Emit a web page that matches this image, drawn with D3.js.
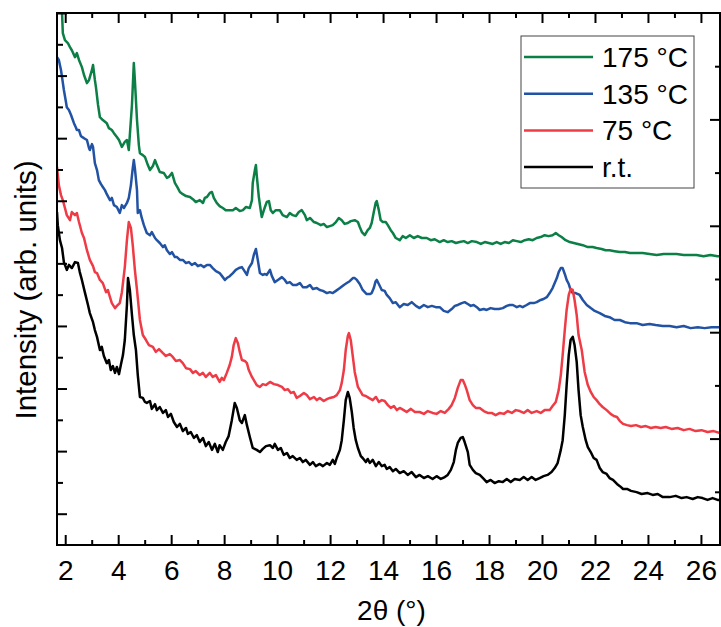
<!DOCTYPE html>
<html>
<head>
<meta charset="utf-8">
<script src="https://cdn.jsdelivr.net/npm/d3@7/dist/d3.min.js"></script>
<style>
  body { margin: 0; background: #fff; }
  svg { display: block; font-family: "Liberation Sans", Arial, sans-serif; }
</style>
</head>
<body>
<svg id="chart" width="721" height="627"></svg>
<script>
// XRD patterns, [2theta (deg), intensity (arb. units)]
const rtData = [
  [1.69,10.64],[1.72,10.22],[1.80,9.74],[1.88,9.49],[1.95,9.04],[2.06,8.79],[2.14,8.95],[2.25,8.85],[2.37,9.04],[2.48,9.01],
  [2.55,8.72],[2.63,8.47],[2.74,8.08],[2.86,7.67],[2.93,7.41],[3.05,7.12],[3.12,6.87],[3.20,6.65],[3.31,6.23],[3.38,6.33],
  [3.46,6.04],[3.57,5.81],[3.65,5.91],[3.72,5.59],[3.80,5.72],[3.88,5.50],[3.95,5.69],[4.03,5.46],[4.10,5.75],[4.18,6.07],
  [4.25,6.55],[4.33,7.67],[4.37,8.53],[4.44,8.15],[4.52,7.35],[4.59,6.71],[4.67,6.23],[4.74,5.43],[4.82,4.73],[4.93,4.70],
  [5.01,4.57],[5.08,4.54],[5.20,4.60],[5.27,4.35],[5.39,4.50],[5.46,4.31],[5.57,4.41],[5.69,4.22],[5.80,4.31],[5.88,4.09],
  [5.99,4.19],[6.10,3.93],[6.22,3.77],[6.33,3.87],[6.44,3.64],[6.56,3.74],[6.63,3.55],[6.74,3.61],[6.86,3.42],[6.97,3.51],
  [7.08,3.29],[7.20,3.42],[7.31,3.16],[7.42,3.29],[7.54,3.04],[7.65,3.23],[7.76,2.97],[7.83,3.19],[7.95,3.04],[8.06,3.29],
  [8.17,3.48],[8.29,3.99],[8.40,4.54],[8.48,4.38],[8.59,3.99],[8.67,3.90],[8.78,4.15],[8.86,3.83],[8.97,3.45],[9.08,3.10],
  [9.23,3.04],[9.35,2.97],[9.46,3.07],[9.58,3.16],[9.73,3.19],[9.84,3.10],[9.91,3.23],[10.03,3.04],[10.14,3.10],[10.25,2.88],
  [10.37,2.94],[10.48,2.78],[10.59,2.84],[10.74,2.72],[10.86,2.78],[10.97,2.65],[11.08,2.72],[11.24,2.56],[11.35,2.65],[11.46,2.52],
  [11.61,2.59],[11.73,2.52],[11.88,2.62],[11.99,2.56],[12.10,2.72],[12.18,2.59],[12.25,2.78],[12.37,3.04],[12.44,3.35],[12.52,3.99],
  [12.59,4.63],[12.67,4.89],[12.74,4.70],[12.82,4.25],[12.89,3.74],[12.97,3.35],[13.05,3.10],[13.16,2.84],[13.23,2.78],[13.35,2.65],
  [13.42,2.75],[13.50,2.62],[13.61,2.72],[13.73,2.52],[13.84,2.65],[13.95,2.52],[14.06,2.56],[14.14,2.43],[14.25,2.49],[14.37,2.36],
  [14.48,2.43],[14.63,2.30],[14.78,2.36],[14.93,2.24],[15.08,2.33],[15.24,2.17],[15.38,2.24],[15.54,2.14],[15.69,2.20],[15.87,2.11],
  [16.02,2.20],[16.18,2.11],[16.33,2.17],[16.44,2.24],[16.56,2.40],[16.67,2.65],[16.75,3.04],[16.82,3.26],[16.93,3.42],[17.01,3.45],
  [17.08,3.29],[17.20,2.97],[17.27,2.56],[17.39,2.40],[17.50,2.30],[17.65,2.24],[17.80,2.11],[17.91,2.01],[18.06,2.08],[18.21,1.98],
  [18.37,2.04],[18.52,2.01],[18.67,2.11],[18.82,2.01],[18.97,2.11],[19.16,2.08],[19.31,2.17],[19.46,2.08],[19.61,2.17],[19.76,2.08],
  [19.91,2.14],[20.06,2.20],[20.21,2.24],[20.36,2.33],[20.48,2.46],[20.59,2.62],[20.71,3.04],[20.78,3.35],[20.86,4.15],[20.93,5.11],
  [21.01,6.07],[21.08,6.55],[21.16,6.65],[21.23,6.39],[21.31,5.85],[21.38,4.95],[21.46,4.15],[21.54,3.77],[21.65,3.35],[21.73,3.13],
  [21.84,2.97],[21.95,2.78],[22.06,2.72],[22.18,2.46],[22.29,2.33],[22.44,2.27],[22.55,2.14],[22.68,2.08],[22.83,1.95],[22.94,1.88],
  [23.06,1.79],[23.21,1.79],[23.36,1.73],[23.57,1.69],[23.76,1.63],[23.99,1.66],[24.18,1.60],[24.37,1.63],[24.56,1.53],[24.82,1.53],
  [25.05,1.57],[25.27,1.50],[25.46,1.53],[25.69,1.47],[25.88,1.53],[26.06,1.50],[26.25,1.44],[26.44,1.50],[26.63,1.44],[26.72,1.44]
];
const c75Data = [
  [1.69,12.08],[1.76,11.50],[1.84,11.18],[1.91,11.02],[1.99,10.77],[2.06,10.54],[2.18,10.38],[2.25,10.64],[2.37,10.54],[2.44,10.61],
  [2.52,10.32],[2.63,9.97],[2.71,9.81],[2.82,9.42],[2.93,9.11],[3.05,8.91],[3.12,8.72],[3.20,8.69],[3.31,8.47],[3.42,8.37],
  [3.54,8.08],[3.61,8.15],[3.69,7.92],[3.76,7.73],[3.88,7.57],[3.95,7.64],[4.06,7.73],[4.14,8.08],[4.25,8.88],[4.33,9.74],
  [4.40,10.32],[4.48,10.13],[4.55,9.58],[4.63,8.79],[4.71,8.15],[4.82,7.19],[4.93,6.71],[5.05,6.55],[5.16,6.39],[5.31,6.33],
  [5.42,6.17],[5.54,6.26],[5.69,6.13],[5.80,6.04],[5.95,6.10],[6.06,6.01],[6.18,5.88],[6.33,5.91],[6.44,5.81],[6.56,5.65],
  [6.71,5.62],[6.82,5.50],[6.93,5.56],[7.08,5.43],[7.20,5.50],[7.31,5.37],[7.46,5.50],[7.57,5.37],[7.69,5.43],[7.83,5.21],
  [7.91,5.34],[7.99,5.27],[8.10,5.50],[8.21,5.75],[8.29,6.01],[8.36,6.39],[8.44,6.61],[8.52,6.45],[8.59,6.17],[8.67,5.91],
  [8.78,5.88],[8.86,5.81],[8.93,5.59],[9.05,5.37],[9.16,5.21],[9.23,5.11],[9.35,5.05],[9.46,5.14],[9.58,5.11],[9.73,5.21],
  [9.88,5.14],[10.03,5.11],[10.18,5.05],[10.29,4.95],[10.41,4.98],[10.52,4.86],[10.63,4.89],[10.74,4.70],[10.86,4.76],[11.01,4.86],
  [11.12,4.79],[11.24,4.66],[11.39,4.73],[11.50,4.63],[11.61,4.70],[11.76,4.60],[11.88,4.66],[11.99,4.70],[12.14,4.73],[12.25,4.79],
  [12.37,4.95],[12.44,5.18],[12.52,5.59],[12.59,6.23],[12.67,6.68],[12.71,6.77],[12.78,6.55],[12.86,6.01],[12.93,5.53],[13.05,5.05],
  [13.16,4.89],[13.23,4.79],[13.35,4.76],[13.46,4.70],[13.61,4.63],[13.73,4.73],[13.84,4.57],[13.95,4.63],[14.06,4.60],[14.18,4.47],
  [14.29,4.38],[14.41,4.44],[14.52,4.31],[14.63,4.38],[14.78,4.31],[14.89,4.25],[15.05,4.35],[15.20,4.25],[15.38,4.25],[15.54,4.19],
  [15.69,4.28],[15.87,4.22],[16.02,4.19],[16.18,4.28],[16.33,4.22],[16.48,4.35],[16.59,4.47],[16.71,4.70],[16.82,5.02],[16.93,5.27],
  [17.01,5.27],[17.08,5.14],[17.16,4.95],[17.27,4.63],[17.39,4.47],[17.50,4.38],[17.65,4.38],[17.80,4.28],[17.95,4.22],[18.10,4.22],
  [18.25,4.15],[18.41,4.22],[18.56,4.19],[18.71,4.28],[18.86,4.22],[19.01,4.31],[19.16,4.28],[19.31,4.22],[19.46,4.31],[19.61,4.22],
  [19.80,4.28],[19.95,4.22],[20.10,4.31],[20.29,4.31],[20.40,4.44],[20.52,4.57],[20.63,4.95],[20.71,5.43],[20.78,6.07],[20.86,6.87],
  [20.93,7.51],[21.01,7.99],[21.08,8.18],[21.16,8.15],[21.23,7.83],[21.31,7.35],[21.38,6.71],[21.50,6.23],[21.61,5.53],[21.73,5.11],
  [21.84,4.89],[21.95,4.73],[22.06,4.63],[22.18,4.50],[22.29,4.41],[22.44,4.31],[22.59,4.19],[22.71,4.12],[22.83,4.09],[22.94,3.96],
  [23.06,3.87],[23.21,3.83],[23.36,3.80],[23.55,3.83],[23.74,3.77],[23.92,3.80],[24.11,3.74],[24.29,3.77],[24.48,3.74],[24.67,3.77],
  [24.89,3.71],[25.12,3.74],[25.35,3.67],[25.57,3.71],[25.80,3.64],[26.02,3.67],[26.25,3.61],[26.48,3.64],[26.72,3.58]
];
const c135Data = [
  [1.69,15.59],[1.76,15.50],[1.84,15.18],[1.88,14.95],[1.95,14.54],[2.03,14.15],[2.06,13.99],[2.14,13.90],[2.22,13.74],[2.25,13.67],
  [2.33,13.48],[2.40,13.35],[2.44,13.26],[2.52,13.26],[2.59,13.07],[2.63,13.04],[2.71,13.00],[2.82,12.94],[2.90,12.68],[2.93,12.62],
  [3.01,12.81],[3.05,12.72],[3.12,12.20],[3.20,11.98],[3.27,11.66],[3.35,11.53],[3.42,11.44],[3.50,11.34],[3.57,11.21],[3.69,11.02],
  [3.76,11.09],[3.84,10.86],[3.95,10.80],[4.06,10.61],[4.14,10.86],[4.22,10.77],[4.33,10.93],[4.40,11.09],[4.48,11.50],[4.55,12.04],
  [4.59,12.30],[4.63,12.04],[4.71,11.34],[4.74,10.61],[4.82,10.70],[4.89,10.45],[4.97,10.22],[5.08,9.97],[5.20,9.90],[5.27,10.00],
  [5.39,9.81],[5.46,9.74],[5.57,9.65],[5.69,9.52],[5.76,9.58],[5.84,9.42],[5.95,9.30],[6.03,9.36],[6.14,9.20],[6.22,9.20],
  [6.33,9.11],[6.44,9.11],[6.56,9.01],[6.67,9.04],[6.78,8.95],[6.90,9.01],[7.01,8.91],[7.12,8.95],[7.23,8.88],[7.35,8.95],
  [7.46,8.95],[7.57,8.85],[7.69,8.75],[7.83,8.69],[7.95,8.56],[8.03,8.47],[8.10,8.53],[8.21,8.59],[8.33,8.69],[8.44,8.79],
  [8.56,8.85],[8.67,8.88],[8.74,8.79],[8.86,8.63],[8.93,8.85],[9.05,9.01],[9.12,9.27],[9.20,9.46],[9.27,9.11],[9.35,8.69],
  [9.46,8.63],[9.54,8.66],[9.61,8.63],[9.73,8.79],[9.80,8.60],[9.91,8.40],[10.03,8.47],[10.18,8.56],[10.29,8.47],[10.37,8.37],
  [10.48,8.40],[10.59,8.31],[10.74,8.31],[10.86,8.37],[10.97,8.24],[11.12,8.24],[11.24,8.31],[11.35,8.18],[11.50,8.21],[11.61,8.15],
  [11.73,8.12],[11.88,8.05],[11.99,8.08],[12.10,8.05],[12.22,8.12],[12.37,8.21],[12.52,8.31],[12.63,8.37],[12.74,8.43],[12.86,8.53],
  [12.93,8.53],[13.01,8.47],[13.12,8.34],[13.23,8.15],[13.38,8.02],[13.50,8.02],[13.57,8.05],[13.65,8.21],[13.72,8.43],[13.76,8.47],
  [13.84,8.34],[13.95,8.15],[14.06,8.12],[14.14,7.99],[14.25,7.89],[14.37,7.73],[14.48,7.76],[14.63,7.60],[14.78,7.70],[14.93,7.67],
  [15.08,7.76],[15.24,7.64],[15.38,7.57],[15.54,7.67],[15.69,7.60],[15.84,7.64],[15.99,7.60],[16.14,7.60],[16.29,7.48],[16.44,7.44],
  [16.59,7.54],[16.71,7.64],[16.82,7.67],[16.97,7.73],[17.08,7.76],[17.20,7.70],[17.31,7.64],[17.42,7.67],[17.54,7.60],[17.65,7.51],
  [17.80,7.54],[17.91,7.51],[18.06,7.57],[18.21,7.54],[18.37,7.54],[18.52,7.57],[18.67,7.64],[18.78,7.67],[18.90,7.67],[19.05,7.60],
  [19.16,7.64],[19.27,7.60],[19.42,7.67],[19.54,7.73],[19.69,7.73],[19.80,7.76],[19.95,7.83],[20.06,7.86],[20.18,7.92],[20.29,8.05],
  [20.40,8.21],[20.48,8.37],[20.56,8.53],[20.63,8.72],[20.71,8.85],[20.78,8.85],[20.86,8.66],[20.93,8.47],[21.01,8.34],[21.08,8.15],
  [21.16,8.05],[21.27,8.05],[21.42,7.99],[21.54,7.83],[21.69,7.67],[21.84,7.57],[21.99,7.48],[22.18,7.41],[22.37,7.32],[22.55,7.28],
  [22.74,7.19],[22.94,7.19],[23.13,7.12],[23.32,7.09],[23.57,7.09],[23.80,7.03],[24.06,7.06],[24.29,7.03],[24.56,7.00],[24.82,7.00],
  [25.08,6.96],[25.35,7.00],[25.61,6.93],[25.88,6.96],[26.14,6.93],[26.40,6.96],[26.72,6.96]
];
const c175Data = [
  [1.82,17.6],[1.88,17.00],[1.91,16.36],[1.99,16.13],[2.10,16.04],[2.18,15.91],[2.25,15.81],[2.37,15.59],[2.44,15.72],[2.52,15.50],
  [2.63,15.27],[2.71,15.02],[2.82,14.76],[2.90,14.86],[2.93,14.95],[3.01,15.18],[3.05,15.34],[3.12,14.86],[3.16,14.63],[3.24,14.06],
  [3.31,13.67],[3.42,13.58],[3.57,13.48],[3.65,13.32],[3.76,13.26],[3.84,13.16],[3.95,13.04],[4.03,12.94],[4.14,12.72],[4.25,12.88],
  [4.33,12.94],[4.40,12.62],[4.48,13.58],[4.52,14.06],[4.59,15.40],[4.63,14.86],[4.71,13.58],[4.78,12.78],[4.82,12.52],[4.93,12.46],
  [5.01,12.40],[5.12,12.14],[5.20,11.98],[5.31,12.11],[5.39,12.30],[5.46,12.14],[5.57,11.92],[5.72,11.89],[5.84,11.73],[5.91,11.76],
  [6.03,11.89],[6.14,11.57],[6.25,11.41],[6.33,11.28],[6.44,11.21],[6.56,11.15],[6.71,11.12],[6.82,11.05],[6.93,10.96],[7.08,11.02],
  [7.20,10.93],[7.27,11.09],[7.35,11.12],[7.46,11.25],[7.54,11.28],[7.61,11.09],[7.72,10.93],[7.83,10.83],[7.95,10.77],[8.06,10.70],
  [8.21,10.70],[8.33,10.70],[8.44,10.77],[8.59,10.67],[8.71,10.70],[8.82,10.80],[8.97,10.77],[9.05,11.02],[9.08,11.57],[9.16,11.98],
  [9.20,12.14],[9.23,11.82],[9.31,11.12],[9.39,10.64],[9.42,10.48],[9.50,10.70],[9.54,10.80],[9.61,10.96],[9.69,10.99],[9.76,10.70],
  [9.84,10.61],[9.95,10.70],[10.10,10.70],[10.21,10.54],[10.37,10.48],[10.48,10.61],[10.59,10.54],[10.71,10.51],[10.82,10.64],[10.93,10.70],
  [11.05,10.54],[11.12,10.38],[11.24,10.45],[11.39,10.32],[11.50,10.29],[11.65,10.22],[11.76,10.26],[11.88,10.16],[11.99,10.19],[12.10,10.22],
  [12.22,10.32],[12.33,10.45],[12.44,10.38],[12.55,10.26],[12.67,10.29],[12.78,10.35],[12.93,10.38],[13.05,10.32],[13.12,10.16],[13.20,10.00],
  [13.31,9.90],[13.42,10.06],[13.50,10.13],[13.57,10.29],[13.65,10.64],[13.72,10.93],[13.76,10.99],[13.84,10.70],[13.91,10.38],[13.99,10.32],
  [14.10,10.32],[14.18,10.22],[14.29,10.06],[14.37,9.97],[14.48,9.81],[14.63,9.74],[14.74,9.87],[14.86,9.81],[15.01,9.90],[15.16,9.81],
  [15.31,9.87],[15.46,9.81],[15.65,9.81],[15.80,9.74],[15.95,9.77],[16.14,9.68],[16.29,9.74],[16.44,9.68],[16.59,9.71],[16.75,9.65],
  [16.89,9.68],[17.05,9.71],[17.20,9.65],[17.35,9.71],[17.54,9.68],[17.69,9.62],[17.84,9.68],[17.99,9.65],[18.14,9.62],[18.29,9.68],
  [18.44,9.62],[18.59,9.68],[18.75,9.65],[18.90,9.74],[19.05,9.71],[19.20,9.68],[19.35,9.74],[19.50,9.77],[19.65,9.74],[19.80,9.81],
  [19.95,9.84],[20.10,9.90],[20.25,9.87],[20.40,9.90],[20.52,9.97],[20.63,9.90],[20.74,9.84],[20.89,9.74],[21.05,9.68],[21.20,9.65],
  [21.35,9.62],[21.54,9.58],[21.73,9.52],[21.91,9.52],[22.06,9.49],[22.25,9.46],[22.40,9.42],[22.55,9.42],[22.74,9.39],[22.94,9.36],
  [23.13,9.36],[23.32,9.33],[23.55,9.33],[23.80,9.33],[24.06,9.30],[24.33,9.27],[24.59,9.30],[24.86,9.30],[25.08,9.30],[25.35,9.27],
  [25.61,9.27],[25.83,9.27],[26.10,9.23],[26.36,9.27],[26.63,9.23],[26.72,9.23]
];

const seriesNames = ["175 °C", "135 °C", "75 °C", "r.t."];
const seriesData  = [c175Data, c135Data, c75Data, rtData];
const seriesColor = ["#0b7f45", "#2152a3", "#ee3b46", "#000000"];

const xMajorTicks = [2,4,6,8,10,12,14,16,18,20,22,24,26];
const xMinorTicks = [3,5,7,9,11,13,15,17,19,21,23,25];
const yLeftMajor  = [1,3,5,7,9,11,13,15,17];
const yLeftMinor  = [2,4,6,8,10,12,14,16];
const yRightMajor = [2,4,6,8];
const yRightMinor = [1,3,5,7,9];

const svg = d3.select('#chart');
const margin = {l:57, t:13, r:1, b:82};
const W = 721 - margin.l - margin.r;
const H = 627 - margin.t - margin.b;

const x  = d3.scaleLinear().domain([1.69, 26.72]).range([0, W]);
const y  = d3.scaleLinear().domain([0, 17]).range([H, 0]);
const y2 = d3.scaleLinear().domain([0, 10]).range([H, 0]);   // right-hand frame ticks

const g = svg.append('g').attr('transform', `translate(${margin.l},${margin.t})`);

g.append('clipPath').attr('id','plotClip')
  .append('rect').attr('width', W).attr('height', H);

// curves
const line = d3.line().x(d => x(d[0])).y(d => y(d[1]));
const curves = g.append('g').attr('clip-path','url(#plotClip)');
seriesData.forEach((data, i) => {
  curves.append('path')
    .datum(data)
    .attr('fill','none')
    .attr('stroke', seriesColor[i])
    .attr('stroke-width', 2.5)
    .attr('stroke-linejoin','round')
    .attr('d', line);
});

// axes: inward ticks, labels only at the bottom
function styleAxis(sel){
  sel.select('.domain').remove();
  sel.selectAll('line').attr('stroke','#000').attr('stroke-width',2);
  sel.selectAll('text').attr('fill','#000').style('font-size','28px')
    .style('font-family','"Liberation Sans", Arial, sans-serif');
}
g.append('g').attr('transform',`translate(0,${H})`)
  .call(d3.axisBottom(x).tickValues(xMajorTicks).tickSize(-10).tickPadding(15).tickFormat(d3.format('d')))
  .call(styleAxis);
g.append('g').attr('transform',`translate(0,${H})`)
  .call(d3.axisBottom(x).tickValues(xMinorTicks).tickSize(-5).tickFormat(''))
  .call(styleAxis);
g.append('g')
  .call(d3.axisTop(x).tickValues(xMajorTicks).tickSize(-10).tickFormat(''))
  .call(styleAxis);
g.append('g')
  .call(d3.axisTop(x).tickValues(xMinorTicks).tickSize(-5).tickFormat(''))
  .call(styleAxis);
g.append('g')
  .call(d3.axisLeft(y).tickValues(yLeftMajor).tickSize(-10).tickFormat(''))
  .call(styleAxis);
g.append('g')
  .call(d3.axisLeft(y).tickValues(yLeftMinor).tickSize(-6).tickFormat(''))
  .call(styleAxis);
g.append('g').attr('transform',`translate(${W},0)`)
  .call(d3.axisRight(y2).tickValues(yRightMajor).tickSize(-10).tickFormat(''))
  .call(styleAxis);
g.append('g').attr('transform',`translate(${W},0)`)
  .call(d3.axisRight(y2).tickValues(yRightMinor).tickSize(-5).tickFormat(''))
  .call(styleAxis);

// frame
g.append('rect')
  .attr('width', W).attr('height', H)
  .attr('fill','none').attr('stroke','#000').attr('stroke-width',2);

// axis titles
g.append('text')
  .attr('x', W/2 + 3).attr('y', H + 75)
  .attr('text-anchor','middle').style('font-size','28px')
  .text('2θ (°)');
svg.append('text')
  .attr('transform', `translate(36,290) rotate(-90)`)
  .attr('text-anchor','middle').style('font-size','29.5px')
  .text('Intensity (arb. units)');

// legend
const leg = g.append('g').attr('transform', `translate(${521 - margin.l},${36 - margin.t})`);
leg.append('rect')
  .attr('width', 173).attr('height', 152)
  .attr('fill','#fff').attr('stroke','#444').attr('stroke-width',1);
seriesNames.forEach((name, i) => {
  const row = leg.append('g').attr('transform', `translate(0,${21 + i*36.7})`);
  row.append('line')
    .attr('x1', 3).attr('x2', 72)
    .attr('stroke', seriesColor[i]).attr('stroke-width', 2.5);
  row.append('text')
    .attr('x', 81).attr('y', 10)
    .style('font-size','28px')
    .text(name);
});
</script>
</body>
</html>
